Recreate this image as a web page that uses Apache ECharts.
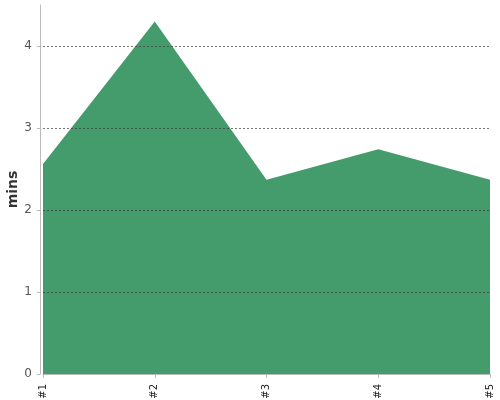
<!DOCTYPE html>
<html>
<head>
<meta charset="utf-8">
<script src="https://cdn.jsdelivr.net/npm/echarts@6/dist/echarts.min.js"></script>
<style>
  html, body { margin: 0; padding: 0; background: #fff; }
  #chart { width: 500px; height: 400px; }
</style>
</head>
<body>
<div id="chart"></div>
<script>
const categories = ['#1', '#2', '#3', '#4', '#5']
const minutes = [2.56, 4.30, 2.37, 2.74, 2.37]
const gridValues = [1, 2, 3, 4]

const chart = echarts.init(document.getElementById('chart'))

let option = {
  animation: false,
  grid: {
    left: 43,
    right: 10,
    top: 5,
    bottom: 26,
    outerBoundsMode: 'none',
    containLabel: false
  },
  xAxis: {
    type: 'category',
    boundaryGap: false,
    data: categories,
    offset: 4,
    axisLine: { lineStyle: { color: '#bbb' } },
    axisTick: { show: true, length: 4, lineStyle: { color: '#bbb' } },
    axisLabel: {
      rotate: 90,
      color: '#222',
      fontSize: 10,
      fontFamily: 'DejaVu Sans',
      margin: 6
    }
  },
  yAxis: {
    type: 'value',
    min: 0,
    max: 4.5,
    interval: 1,
    offset: 3,
    name: 'mins',
    nameLocation: 'middle',
    nameGap: 20,
    nameMoveOverlap: false,
    nameTextStyle: { color: '#333', fontSize: 14, fontWeight: 'bold', fontFamily: 'DejaVu Sans' },
    axisLine: { show: true, lineStyle: { color: '#bbb' } },
    axisTick: { show: true, length: 3, lineStyle: { color: '#bbb' } },
    axisLabel: {
      color: '#555',
      fontSize: 12,
      fontFamily: 'DejaVu Sans',
      margin: 8,
      showMaxLabel: false
    },
    splitLine: { show: false }
  },
  series: [
    {
      type: 'line',
      data: minutes,
      symbol: 'none',
      lineStyle: { width: 0 },
      areaStyle: { color: '#449c6c', opacity: 1 },
      markLine: {
        silent: true,
        symbol: 'none',
        label: { show: false },
        lineStyle: { color: 'rgba(60,60,60,0.7)', type: [2, 2], width: 1 },
        data: gridValues.map(v => ({ yAxis: v }))
      }
    }
  ]
}
chart.setOption(option)
</script>
</body>
</html>
